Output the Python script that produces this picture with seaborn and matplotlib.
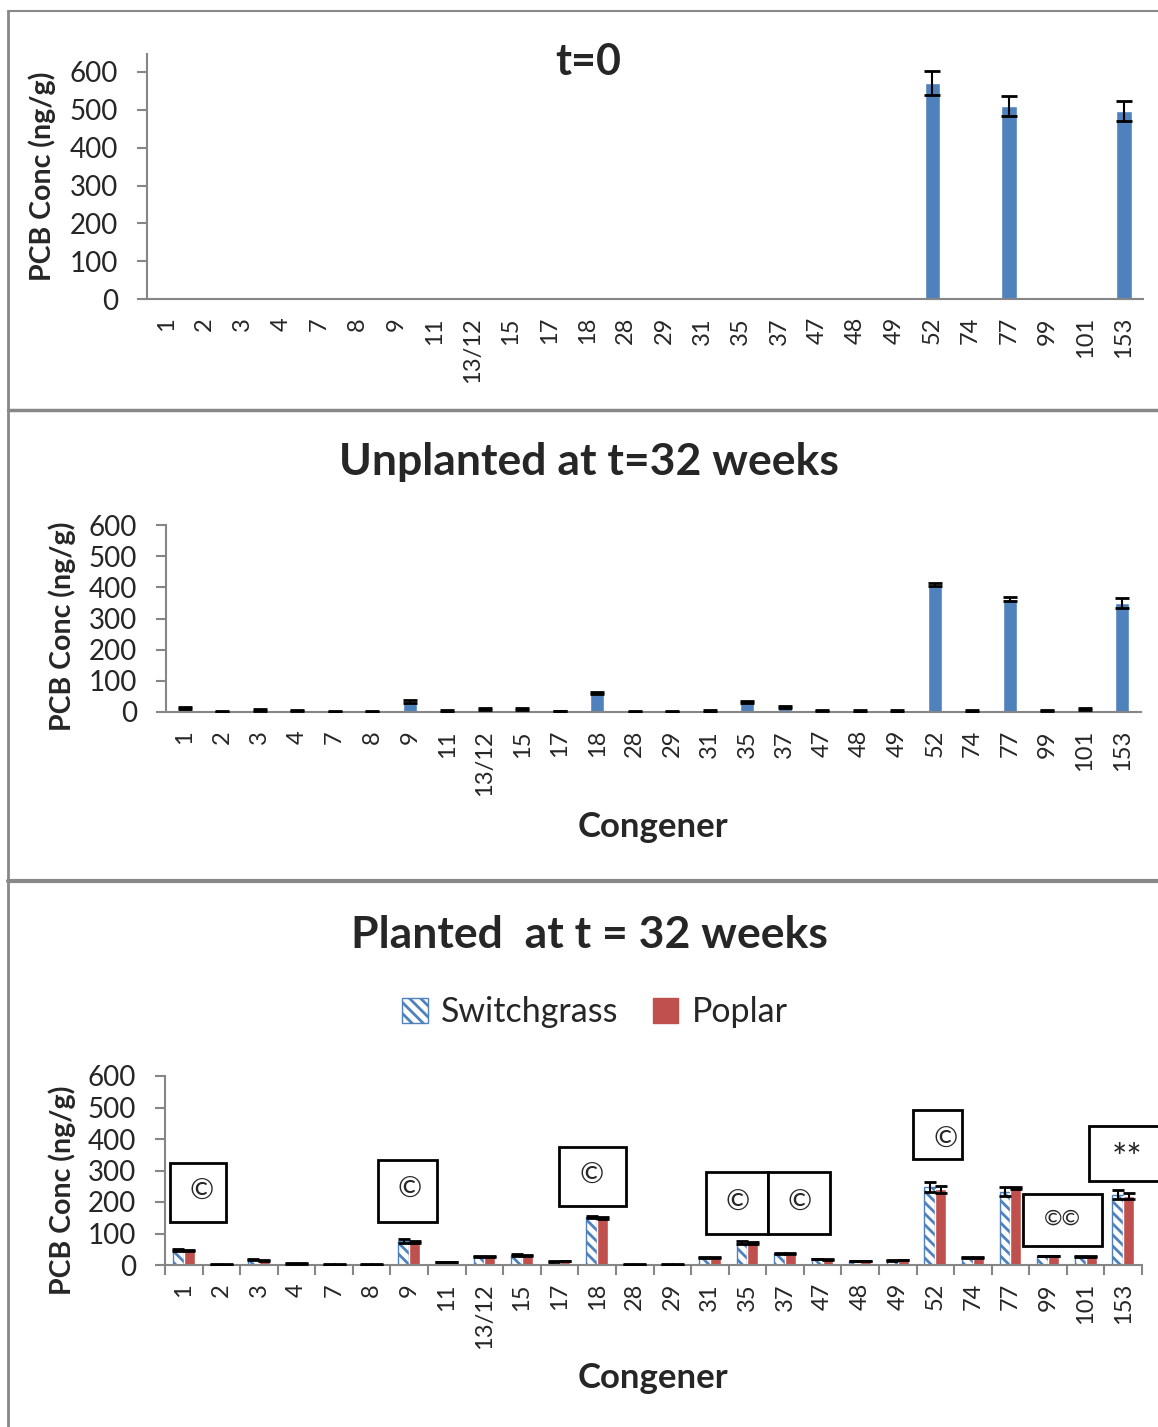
import numpy as np
import pandas as pd
import matplotlib.pyplot as plt
import seaborn as sns
from matplotlib.patches import Patch, Rectangle
from matplotlib.lines import Line2D

congeners = ["1", "2", "3", "4", "7", "8", "9", "11", "13/12", "15", "17", "18", "28",
             "29", "31", "35", "37", "47", "48", "49", "52", "74", "77", "99", "101", "153"]

# t = 0
t0_conc = [0, 0, 0, 0, 0, 0, 0, 0, 0, 0, 0, 0, 0, 0, 0, 0, 0, 0, 0, 0, 570, 0, 510, 0, 0, 497]
t0_err = [0, 0, 0, 0, 0, 0, 0, 0, 0, 0, 0, 0, 0, 0, 0, 0, 0, 0, 0, 0, 32, 0, 27, 0, 0, 27]

# unplanted at 32 weeks
unpl_conc = [12, 1, 6, 4, 1, 1, 35, 3, 9, 11, 3, 61, 1, 1, 3, 33, 16, 4, 3, 3, 409, 3, 363, 5, 10, 350]
unpl_err = [3, 1, 3, 2, 1, 1, 5, 2, 3, 3, 1, 3, 1, 1, 2, 3, 3, 2, 2, 2, 5, 2, 7, 2, 3, 15]

# planted at 32 weeks
switch_conc = [47, 2, 17, 5, 2, 2, 77, 10, 27, 32, 12, 153, 2, 2, 24, 71, 37, 19, 13, 15, 247, 24, 233, 28, 26, 223]
switch_err = [3, 1, 2, 1, 1, 1, 6, 1, 2, 2, 1, 4, 1, 1, 2, 4, 2, 1, 1, 1, 16, 1, 15, 1, 1, 15]
poplar_conc = [45, 2, 15, 5, 2, 2, 74, 9, 27, 30, 13, 150, 2, 2, 23, 69, 36, 18, 13, 16, 240, 24, 245, 28, 27, 219]
poplar_err = [2, 1, 2, 1, 1, 1, 3, 1, 2, 2, 1, 3, 1, 1, 2, 3, 2, 1, 1, 1, 10, 1, 3, 1, 1, 8]

blue = "#4F81BD"
red = "#C0504D"
gray = "#868686"

sns.set_style("white")
plt.rcParams['font.family'] = ['Lato', 'DejaVu Sans']
plt.rcParams['hatch.linewidth'] = 2.0

W, H = 1158, 1427
fig = plt.figure(figsize=(W / 100, H / 100), dpi=100)


def px_axes(l, t, r, b):
    return fig.add_axes([l / W, 1 - b / H, (r - l) / W, (b - t) / H])


def style(ax, ymax, boundary_ticks=False):
    ax.set_ylim(0, ymax)
    ax.set_yticks(range(0, 601, 100))
    for s in ["top", "right"]:
        ax.spines[s].set_visible(False)
    for s in ["left", "bottom"]:
        ax.spines[s].set_color(gray)
        ax.spines[s].set_linewidth(1.5)
    ax.tick_params(axis="y", direction="out", length=7, width=1.5, color=gray,
                   pad=14, labelsize=20, left=True)
    ax.tick_params(axis="x", which="major", length=0, pad=13, labelsize=17, labelrotation=90)
    if boundary_ticks:
        ax.set_xticks(np.arange(-0.5, len(congeners), 1), minor=True)
        ax.tick_params(axis="x", which="minor", direction="out", length=7, width=1.5,
                       color=gray, bottom=True)
    ax.set_xlim(-0.5, len(congeners) - 0.5)
    ax.set_xlabel("")
    ax.set_ylabel("")


def add_errors(ax, container, err, capsize):
    xs, ys, es = [], [], []
    for p, e in zip(container.patches, err):
        h = p.get_height()
        if h > 0:
            xs.append(p.get_x() + p.get_width() / 2)
            ys.append(h)
            es.append(e)
    ax.errorbar(xs, ys, yerr=es, fmt="none", ecolor="black", elinewidth=1.5,
                capsize=capsize, capthick=2, zorder=5)


# panel 1
ax1 = px_axes(147, 54, 1143, 299)
sns.barplot(x=congeners, y=t0_conc, color=blue, width=0.4, saturation=1, ax=ax1)
add_errors(ax1, ax1.containers[0], t0_err, 6)
style(ax1, 600 * 245 / 227)
fig.text(588 / W, 1 - 62 / H, "t=0", ha="center", va="center", fontsize=31, fontweight="bold")
fig.text(42 / W, 1 - 176 / H, "PCB Conc (ng/g)", rotation=90, ha="center", va="center",
         fontsize=20.5, fontweight="bold")

# panel 2
ax2 = px_axes(166, 525, 1141, 712)
sns.barplot(x=congeners, y=unpl_conc, color=blue, width=0.38, saturation=1, ax=ax2)
add_errors(ax2, ax2.containers[0], unpl_err, 5)
style(ax2, 600)
fig.text(589 / W, 1 - 462 / H, "Unplanted at t=32 weeks", ha="center", va="center",
         fontsize=32, fontweight="bold")
fig.text(62 / W, 1 - 626 / H, "PCB Conc (ng/g)", rotation=90, ha="center", va="center",
         fontsize=20.5, fontweight="bold")
fig.text(653 / W, 1 - 827 / H, "Congener", ha="center", va="center", fontsize=25,
         fontweight="bold")

# panel 3
df = pd.DataFrame({
    "Congener": congeners * 2,
    "Conc": switch_conc + poplar_conc,
    "Plant": ["Switchgrass"] * len(congeners) + ["Poplar"] * len(congeners),
})
ax3 = px_axes(165, 1076, 1142, 1265)
sns.barplot(data=df, x="Congener", y="Conc", hue="Plant", order=congeners,
            palette={"Switchgrass": blue, "Poplar": red}, width=0.58, saturation=1,
            legend=False, ax=ax3)
for p in ax3.containers[0].patches:
    p.set_facecolor("white")
    p.set_edgecolor(blue)
    p.set_hatch("\\\\\\")
    p.set_linewidth(1)
add_errors(ax3, ax3.containers[0], switch_err, 4)
add_errors(ax3, ax3.containers[1], poplar_err, 4)
style(ax3, 600, boundary_ticks=True)
fig.text(589 / W, 1 - 935 / H, "Planted  at t = 32 weeks", ha="center", va="center",
         fontsize=32, fontweight="bold")
fig.text(62 / W, 1 - 1190 / H, "PCB Conc (ng/g)", rotation=90, ha="center", va="center",
         fontsize=20.5, fontweight="bold")
fig.text(653 / W, 1 - 1378 / H, "Congener", ha="center", va="center", fontsize=25,
         fontweight="bold")

handles = [Patch(facecolor="white", edgecolor=blue, hatch="\\\\\\", linewidth=1),
           Patch(facecolor=red, edgecolor=red)]
fig.legend(handles, ["Switchgrass", "Poplar"], loc="center",
           bbox_to_anchor=(595 / W, 1 - 1012 / H), ncol=2, frameon=False, fontsize=24.5,
           handlelength=0.75, handleheight=0.75, handletextpad=0.4, columnspacing=1.0)

# annotation boxes
boxes = [
    (170, 1163, 226, 1222, "©", 202, 1192),
    (378, 1160, 437, 1222, "©", 410, 1190),
    (559, 1147, 626, 1206, "©", 592, 1176),
    (706, 1172, 768, 1234, "©", 738, 1203),
    (768, 1172, 830, 1234, "©", 800, 1203),
    (913, 1110, 962, 1159, "©", 946, 1140),
    (1023, 1194, 1102, 1246, "©©", 1062, 1219),
    (1089, 1126, 1172, 1181, "**", 1127, 1160),
]
for l, t, r, b, s, tx, ty in boxes:
    fig.add_artist(Rectangle((l / W, 1 - b / H), (r - l) / W, (b - t) / H,
                             transform=fig.transFigure, fill=True, facecolor="white",
                             edgecolor="black", linewidth=2, zorder=6))
    size = {"©": 21, "©©": 16, "**": 26}[s]
    fig.text(tx / W, 1 - ty / H, s, ha="center", va="center", fontsize=size, zorder=7)

# panel frames
for x1, y1, x2, y2, lw in [(8, 11, 8, 1427, 2), (8, 11, 1158, 11, 1.5),
                           (8, 410, 1158, 410, 2.5), (8, 881, 1158, 881, 3)]:
    fig.add_artist(Line2D([x1 / W, x2 / W], [1 - y1 / H, 1 - y2 / H],
                          transform=fig.transFigure, color="#888888", lw=lw))

fig.savefig("out.png", dpi=100, facecolor="white")
